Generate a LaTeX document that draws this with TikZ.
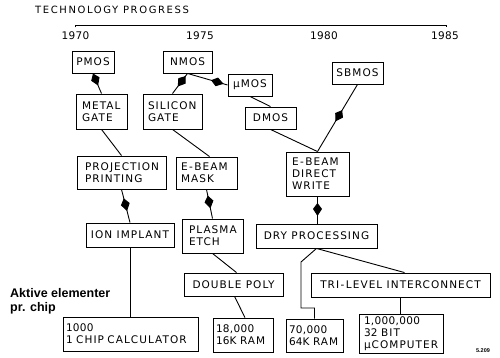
\documentclass[tikz,border=0pt]{standalone}
\usepackage{fontspec}
\newfontfamily\boxfont[LetterSpace=10]{DejaVu Sans}
\newfontfamily\numfont[LetterSpace=3]{DejaVu Sans}
\newfontfamily\titlefont[LetterSpace=16]{DejaVu Sans}
\newfontfamily\labelfont{Liberation Sans}
\usetikzlibrary{arrows.meta,decorations.markings}
\newcommand\hy{\kern1.5pt-\kern1.5pt}
\tikzset{
  conn/.style={line width=0.9pt},
  box/.style={draw, line width=0.9pt, inner ysep=0pt, font=\boxfont\fontsize{10.5}{12}\selectfont},
  cbox/.style={box, align=center, inner xsep=0pt},
  lbox/.style={box, align=left},
  midarrow/.style={postaction={decorate}, decoration={markings, mark=at position #1 with {\arrow{Kite[length=13pt,width=9pt,inset=6pt]}}}},
  midarrow/.default=0.5,
  year/.style={font=\numfont\fontsize{10.5}{12}\selectfont, inner sep=0pt}
}
\begin{document}
\begin{tikzpicture}[x=1pt,y=-1pt]
\useasboundingbox[fill=white] (0,0) rectangle (500,358);
% title and time axis
\node[anchor=west, inner sep=0pt, font=\titlefont\fontsize{10}{12}\selectfont] (title) at (35,9.5) {TECHNOLOGY PROGRESS};
\draw[conn] (75,27.5) -- (75,25) -- (446,25) -- (446,27.5);
\draw[conn] (200,25) -- (200,26.5);
\draw[conn] (323,25) -- (323,26.5);
\node[year] (y70) at (75.5,35.5) {1970};
\node[year] (y75) at (200,35.5) {1975};
\node[year] (y80) at (324,35.5) {1980};
\node[year] (y85) at (445,35.5) {1985};
% boxes
\node[cbox, minimum width=42, minimum height=22] (pmos) at (93,62) {PMOS};
\node[cbox, minimum width=49, minimum height=22] (nmos) at (187.5,62) {NMOS};
\node[cbox, minimum width=44, minimum height=22] (umos) at (250,85) {μMOS};
\node[cbox, minimum width=51, minimum height=22] (sbmos) at (357.5,73) {SBMOS};
\node[lbox, inner xsep=6, text width=39, minimum height=35] (metal) at (101.5,111.5) {METAL\\GATE};
\node[lbox, inner xsep=5, text width=49, minimum height=35] (silicon) at (172.5,111.5) {SILICON\\GATE};
\node[cbox, minimum width=51, minimum height=22] (dmos) at (270.5,118) {DMOS};
\node[lbox, inner xsep=8, text width=73, minimum height=33] (proj) at (121.5,172.5) {PROJECTION\\PRINTING};
\node[lbox, inner xsep=5, text width=51, minimum height=32] (ebmask) at (206.5,173) {E\hy BEAM\\MASK};
\node[lbox, inner xsep=6, text width=51, minimum height=44] (ebdw) at (317.5,174) {E\hy BEAM\\DIRECT\\WRITE};
\node[cbox, minimum width=88, minimum height=24] (ion) at (130,235) {ION IMPLANT};
\node[lbox, inner xsep=7, text width=47, minimum height=34] (plasma) at (212.5,236) {PLASMA\\ETCH};
\node[cbox, minimum width=121, minimum height=24] (dry) at (316.5,236) {DRY PROCESSING};
\node[cbox, minimum width=99, minimum height=23] (dpoly) at (233.5,284.5) {DOUBLE POLY};
\node[cbox, minimum width=179, minimum height=24] (tri) at (400.5,285) {TRI\hy LEVEL INTERCONNECT};
\node[lbox, inner xsep=3, text width=129, minimum height=34] (calc) at (130.5,334) {{\numfont 1000}\\\mbox{{\numfont 1} CHIP CALCULATOR}};
\node[lbox, inner xsep=3, text width=54, minimum height=34] (r16) at (243,335) {{\numfont 18,000}\\\mbox{{\numfont 16}K RAM}};
\node[lbox, inner xsep=3, text width=51, minimum height=33] (r64) at (314.5,335.5) {{\numfont 70,000}\\\mbox{{\numfont 64}K RAM}};
\node[lbox, inner xsep=5, text width=74, minimum height=39] (comp) at (401,333.5) {{\numfont 1,000,000}\\\mbox{{\numfont 32} BIT}\\μCOMPUTER};
% side labels
\node[anchor=base west, inner sep=0pt, align=left, font=\labelfont\bfseries\fontsize{12.5}{14}\selectfont] (akt) at (10,311) {Aktive elementer\\pr. chip};
\node[inner sep=0pt, font=\labelfont\bfseries\fontsize{5.5}{6}\selectfont] (ref) at (483,351) {5.209};
% connectors
\draw[conn, midarrow=0.6] (pmos.south) -- (metal.north);
\draw[conn, midarrow=0.65] (nmos.south) -- (silicon.north);
\draw[conn, midarrow=0.9] (nmos.south) -- (umos.west);
\draw[conn] (umos.south) -- (dmos.north);
\draw[conn, midarrow=0.55] (sbmos.south) -- (ebdw.north);
\draw[conn] (dmos.south) -- (ebdw.north);
\draw[conn] (metal.south) -- (proj.north);
\draw[conn] (silicon.south) -- ([xshift=3]ebmask.north);
\draw[conn, midarrow=0.65] (proj.south) -- (ion.north);
\draw[conn, midarrow=0.65] (ebmask.south) -- (plasma.north);
\draw[conn, midarrow=0.72] (ebdw.south) -- (ebdw.south |- dry.north);
\draw[conn] (ion.south) -- (ion.south |- calc.north);
\draw[conn] (plasma.south) -- ([xshift=3]dpoly.north);
\draw[conn] ([xshift=1]dpoly.south) -- ([xshift=2]r16.north);
\coordinate (k1) at (301,262);
\coordinate (k2) at (301,308);
\draw[conn] (dry.south) -- (k1) -- (k2) -- (k2 -| r64.north) -- (r64.north);
\draw[conn] (dry.south) -- ([xshift=4]tri.north);
\draw[conn] (tri.south) -- (tri.south |- comp.north);
\end{tikzpicture}
\end{document}
